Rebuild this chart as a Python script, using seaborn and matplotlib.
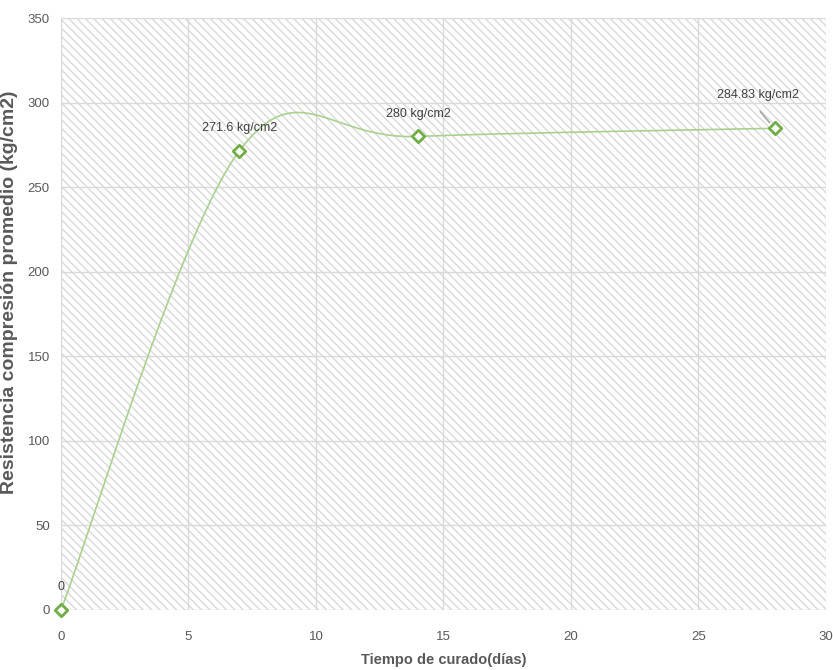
import numpy as np
import matplotlib
matplotlib.use("Agg")
import matplotlib.pyplot as plt
import seaborn as sns
import pandas as pd
from matplotlib.patches import Rectangle

dias = [0, 7, 14, 28]
resistencia = [0, 271.6, 280, 284.83]
etiquetas = ["0", "271.6 kg/cm2", "280 kg/cm2", "284.83 kg/cm2"]
xticks = [0, 5, 10, 15, 20, 25, 30]
yticks = [0, 50, 100, 150, 200, 250, 300, 350]

sns.set_theme(style="white")
plt.rcParams['font.family'] = ['Liberation Sans', 'DejaVu Sans']
plt.rcParams['hatch.color'] = '#d9d9d9'
plt.rcParams['hatch.linewidth'] = 1.0

def smooth(xs, ys, n=60):
    P = np.column_stack([xs, ys]).astype(float)
    pts = [P[0]] + list(P) + [P[-1]]
    out = []
    for i in range(1, len(pts) - 2):
        p0, p1, p2, p3 = pts[i-1], pts[i], pts[i+1], pts[i+2]
        c1 = p1 + (p2 - p0) / 6
        c2 = p2 - (p3 - p1) / 6
        t = np.linspace(0, 1, n)[:, None]
        seg = (1-t)**3*p1 + 3*(1-t)**2*t*c1 + 3*(1-t)*t**2*c2 + t**3*p2
        out.append(seg)
    s = np.vstack(out)
    return s[:, 0], s[:, 1]

sx, sy = smooth(dias, resistencia)
curve = pd.DataFrame({"x": sx, "y": sy})
pts = pd.DataFrame({"dias": dias, "res": resistencia})

fig = plt.figure(figsize=(8.33, 6.7), dpi=100)
ax = fig.add_axes([0.0732, 0.0896, 0.9184, 0.8834])
ax.add_patch(Rectangle((0, 0), 1, 1, transform=ax.transAxes, facecolor='white',
                       edgecolor='#d9d9d9', hatch='\\\\\\\\', linewidth=0, zorder=0))

sns.lineplot(data=curve, x="x", y="y", sort=False, color='#a9d18e', linewidth=1.2, ax=ax, zorder=3)
sns.scatterplot(data=pts, x="dias", y="res", marker='D', s=40, facecolor='white',
                edgecolor='#70ad47', linewidth=2, ax=ax, zorder=4, clip_on=False)

ax.set_xlim(0, 30)
ax.set_ylim(0, 350)
ax.set_xticks(xticks)
ax.set_yticks(yticks)
ax.grid(True, color='#d9d9d9', linewidth=1)
ax.set_axisbelow(False)
for g in ax.get_xgridlines() + ax.get_ygridlines():
    g.set_zorder(1)
for sp in ax.spines.values():
    sp.set_visible(False)
ax.tick_params(axis='both', colors='#595959', labelsize=9.5, length=0)
ax.tick_params(axis='x', pad=15)
ax.tick_params(axis='y', pad=8)

ax.set_xlabel("Tiempo de curado(días)", fontsize=10.5, fontweight='bold', color='#595959')
ax.xaxis.set_label_coords(0.5, -0.072)
ax.set_ylabel("Resistencia compresión promedio (kg/cm2)", fontsize=14, fontweight='bold', color='#595959')
ax.yaxis.set_label_coords(-0.0565, 0.537)

offs = [(0, 12), (0, 12), (0, 12), (-12, 20)]
for x, y, t, o in zip(dias, resistencia, etiquetas, offs):
    ax.annotate(t, (x, y), xytext=o, textcoords='offset points', ha='center', va='bottom',
                fontsize=9, color='#404040', zorder=5)
ax.annotate("", xy=(27.85, 287), xytext=(27.35, 296),
            arrowprops=dict(arrowstyle='-', color='#a6a6a6', lw=1.2))

fig.savefig("out.png", dpi=100)
